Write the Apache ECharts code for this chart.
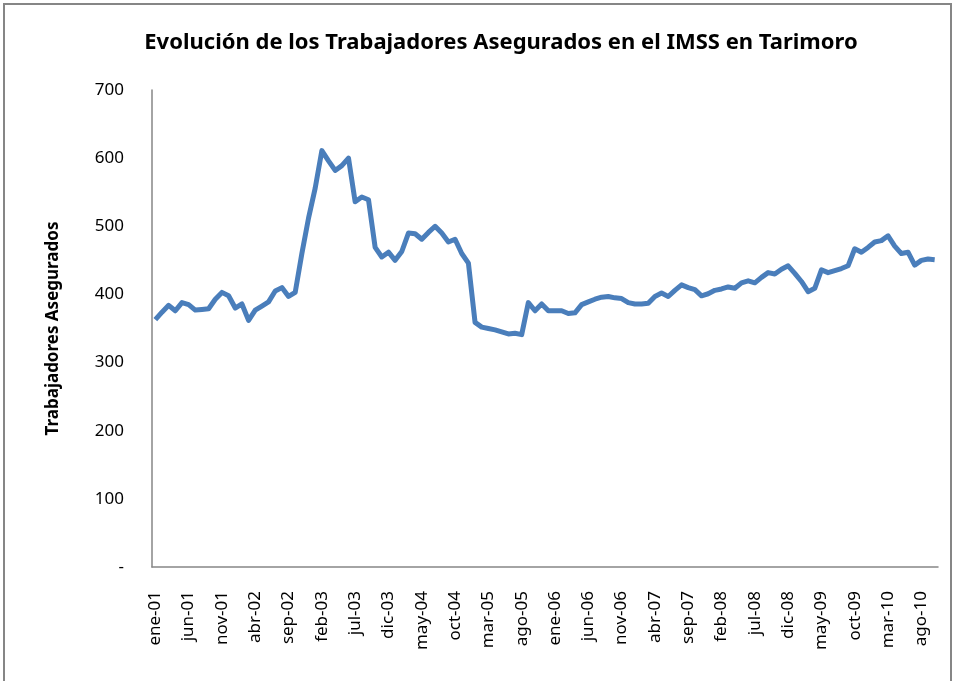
<!DOCTYPE html>
<html>
<head>
<meta charset="utf-8">
<script src="https://cdn.jsdelivr.net/npm/echarts@6/dist/echarts.min.js"></script>
<style>
  html, body { margin: 0; padding: 0; background: #fff; }
  #myChart { width: 956px; height: 681px; }
</style>
</head>
<body>
<div id="myChart"></div>
<script>
// meses y años del eje x (ene-01 ... oct-10)
const meses = ['ene', 'feb', 'mar', 'abr', 'may', 'jun', 'jul', 'ago', 'sep', 'oct', 'nov', 'dic'];
const anios = ['01', '02', '03', '04', '05', '06', '07', '08', '09', '10'];
const totalMeses = 118;

// trabajadores asegurados por mes
const asegurados = [
  363, 374, 384, 376, 388, 385, 377, 378, 379, 393, 403, 398,
  380, 386, 362, 377, 383, 389, 405, 410, 397, 403, 460, 512,
  556, 611, 596, 582, 589, 600, 536, 543, 539, 469, 455, 462,
  450, 463, 490, 489, 481, 491, 500, 490, 477, 481, 460, 446,
  359, 352, 350, 348, 345, 342, 343, 341, 388, 376, 386, 376,
  376, 376, 372, 373, 385, 389, 393, 396, 397, 395, 394, 388,
  386, 386, 387, 397, 402, 397, 406, 414, 410, 407, 398, 401,
  406, 408, 411, 409, 417, 420, 417, 425, 432, 430, 437, 442,
  431, 419, 404, 409, 436, 432, 435, 438, 442, 467, 462, 469,
  477, 479, 486, 471, 460, 462, 443, 450, 452, 451
];

const yTicks = [0, 100, 200, 300, 400, 500, 600, 700];

let categorias = [];
for (let i = 0; i < totalMeses; i++) {
  categorias.push(meses[i % 12] + '-' + anios[Math.floor(i / 12)]);
}

let myChart = echarts.init(document.getElementById('myChart'));
myChart.setOption({
  backgroundColor: '#fff',
  animation: false,
  textStyle: {
    fontFamily: 'Noto Sans'
  },
  title: {
    text: 'Evolución de los Trabajadores Asegurados en el IMSS en Tarimoro',
    left: 496,
    top: 27,
    textAlign: 'center',
    textStyle: {
      fontFamily: 'Noto Sans',
      fontSize: 22,
      fontWeight: 'bold',
      color: '#000'
    }
  },
  graphic: [{
    type: 'rect',
    shape: { x: 4, y: 4, width: 947, height: 700 },
    style: { fill: 'none', stroke: '#868686', lineWidth: 2 },
    silent: true
  }],
  grid: {
    left: 152,
    right: 18,
    top: 90,
    bottom: 114
  },
  xAxis: {
    type: 'category',
    data: categorias,
    boundaryGap: true,
    axisLine: {
      lineStyle: { color: '#868686', width: 1.5 }
    },
    axisTick: { show: false },
    axisLabel: {
      interval: 4,
      rotate: 90,
      margin: 24,
      fontSize: 17,
      color: '#000'
    },
    splitLine: { show: false }
  },
  yAxis: {
    type: 'value',
    min: yTicks[0],
    max: yTicks[yTicks.length - 1],
    interval: 100,
    name: 'Trabajadores Asegurados',
    nameLocation: 'middle',
    nameGap: 90,
    nameRotate: 90,
    nameTextStyle: {
      fontFamily: 'Noto Sans',
      fontSize: 17,
      fontWeight: 'bold',
      color: '#000'
    },
    axisLine: {
      show: true,
      lineStyle: { color: '#868686', width: 1.5 }
    },
    axisTick: { show: false },
    axisLabel: {
      margin: 28,
      fontSize: 17,
      color: '#000',
      formatter: function (v) { return v === 0 ? '-' : v; }
    },
    splitLine: { show: false }
  },
  series: [{
    name: 'Trabajadores Asegurados',
    type: 'line',
    data: asegurados,
    showSymbol: false,
    symbol: 'none',
    lineStyle: { color: '#4a7ebb', width: 5, join: 'round' },
    itemStyle: { color: '#4a7ebb' }
  }]
});
</script>
</body>
</html>
